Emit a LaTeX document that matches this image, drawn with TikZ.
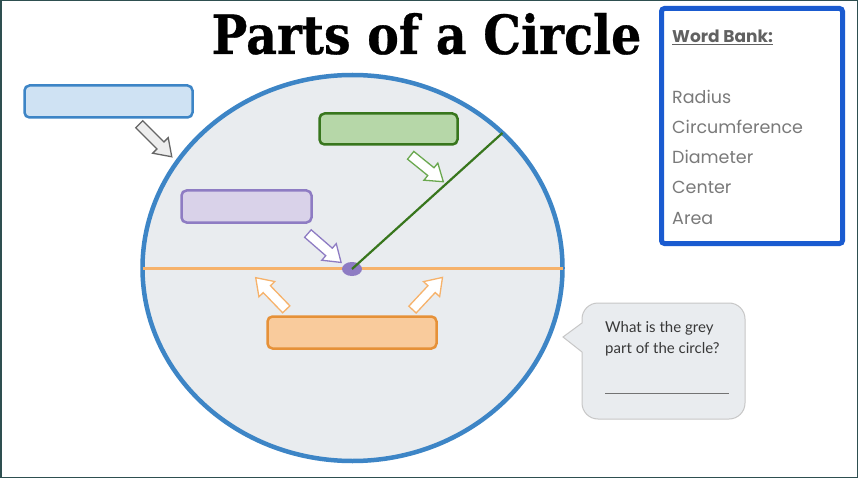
\documentclass[tikz,border=0pt]{standalone}
\usepackage{fontspec}
\setmainfont{Lato}
\newfontfamily\titlefont{DejaVu Serif}[FakeBold=0.6]
\newfontfamily\bankfont{Poppins}
\usetikzlibrary{shapes.geometric}
\definecolor{circfill}{HTML}{E9ECEF}
\definecolor{circline}{HTML}{3D85C6}
\definecolor{bluefill}{HTML}{CFE2F3}
\definecolor{greenfill}{HTML}{B6D7A8}
\definecolor{greenline}{HTML}{38761D}
\definecolor{greenarrow}{HTML}{6AA84F}
\definecolor{purplefill}{HTML}{D9D2E9}
\definecolor{purpleline}{HTML}{8E7CC3}
\definecolor{orangefill}{HTML}{F9CB9C}
\definecolor{orangeline}{HTML}{E69138}
\definecolor{orangearrow}{HTML}{F6B26B}
\definecolor{bankblue}{HTML}{1A5BD0}
\definecolor{banktext}{HTML}{7A7A7A}
\definecolor{frame}{HTML}{2E4F50}
\tikzset{
  labelbox/.style={rectangle, rounded corners=5pt, line width=2.5pt, inner sep=0pt, outer sep=0pt},
  hollowarrow/.style={line width=1.3pt, line join=miter},
  banktxt/.style={anchor=base west, inner sep=0pt, font=\bankfont\fontsize{17.5}{17.5}\selectfont, text=banktext},
  bubbletxt/.style={anchor=base west, inner sep=0pt, font=\fontsize{15}{15}\selectfont, text=black!78},
}
% block arrow pointing along +x, centred at origin, length 2*#3
\newcommand{\myblockarrow}[4]{% centre, angle, half-length, style
  \begin{scope}[shift={#1}, rotate=#2]
    \draw[hollowarrow, #4] (-#3,-5) -- (#3-16,-5) -- (#3-16,-11) -- (#3,0) -- (#3-16,11) -- (#3-16,5) -- (-#3,5) -- cycle;
  \end{scope}}
\begin{document}
\begin{tikzpicture}[x=1pt,y=-1pt]
\useasboundingbox (0,0) rectangle (858,478);
\fill[white] (0,0) rectangle (858,478);
\draw[frame, line width=1.5pt] (0.75,0.75) rectangle (857.25,477.25);

% title
\node[anchor=base, inner sep=0pt] (title) at (426.5,54)
  {\scalebox{0.88}[1]{\titlefont\bfseries\fontsize{54}{54}\selectfont Parts of a Circle}};

% word bank
\node[rectangle, draw=bankblue, line width=5pt, rounded corners=3pt, inner sep=0pt,
      minimum width=181pt, minimum height=235pt] (bank) at (752,126) {};
\node[banktxt, font=\bankfont\bfseries\fontsize{17}{17}\selectfont, text=black!62] (wb) at (672,43) {\underline{Word Bank:}};
\node[banktxt] (w1) at (672,104) {Radius};
\node[banktxt] (w2) at (672,134) {Circumference};
\node[banktxt] (w3) at (672,164) {Diameter};
\node[banktxt] (w4) at (672,194) {Center};
\node[banktxt] (w5) at (672,224) {Area};

% circle
\node[ellipse, draw=circline, fill=circfill, line width=4.5pt, inner sep=0pt, outer sep=0pt,
      minimum width=420pt, minimum height=386pt] (circ) at (352.5,268) {};
\draw[orangearrow, line width=3pt] (circ.west) -- (circ.east);
\node[ellipse, fill=purpleline, inner sep=0pt, minimum width=20pt, minimum height=14pt] (dot) at (352,269) {};
\draw[greenline, line width=2.2pt] (dot.center) -- (circ.42);

% label boxes
\node[labelbox, draw=circline, fill=bluefill, minimum width=168pt, minimum height=32pt] (bluebox) at (108.5,101.5) {};
\node[labelbox, draw=greenline, fill=greenfill, minimum width=138pt, minimum height=31pt] (greenbox) at (388.5,129) {};
\node[labelbox, draw=purpleline, fill=purplefill, minimum width=130pt, minimum height=32pt] (purplebox) at (246.5,206.5) {};
\node[labelbox, draw=orangeline, fill=orangefill, minimum width=169pt, minimum height=32pt] (orangebox) at (352,332.5) {};

% arrows
\myblockarrow{(155.5,140.5)}{-45}{23}{draw=black!60, fill=black!7}
\myblockarrow{(427,168.5)}{-39}{21}{draw=greenarrow, fill=white}
\myblockarrow{(324.5,248)}{-41}{22}{draw=purpleline, fill=white}
\myblockarrow{(271,293.5)}{134}{22}{draw=orangearrow, fill=white}
\myblockarrow{(427.5,293.5)}{47}{22}{draw=orangearrow, fill=white}

% speech bubble
\draw[black!22, fill=circfill, line width=1pt] (563,337) -- (582,323)
  {[rounded corners=16pt] -- (582,303) -- (745,303) -- (745,419) -- (582,419)} -- (582,352) -- cycle;
\node[bubbletxt] (q1) at (605,332) {What is the grey};
\node[bubbletxt] (q2) at (605,353) {part of the circle?};
\coordinate (u1) at (605,393);
\coordinate (u2) at (729,393);
\draw[black!55, line width=0.8pt] (u1) -- (u2);
\end{tikzpicture}
\end{document}
